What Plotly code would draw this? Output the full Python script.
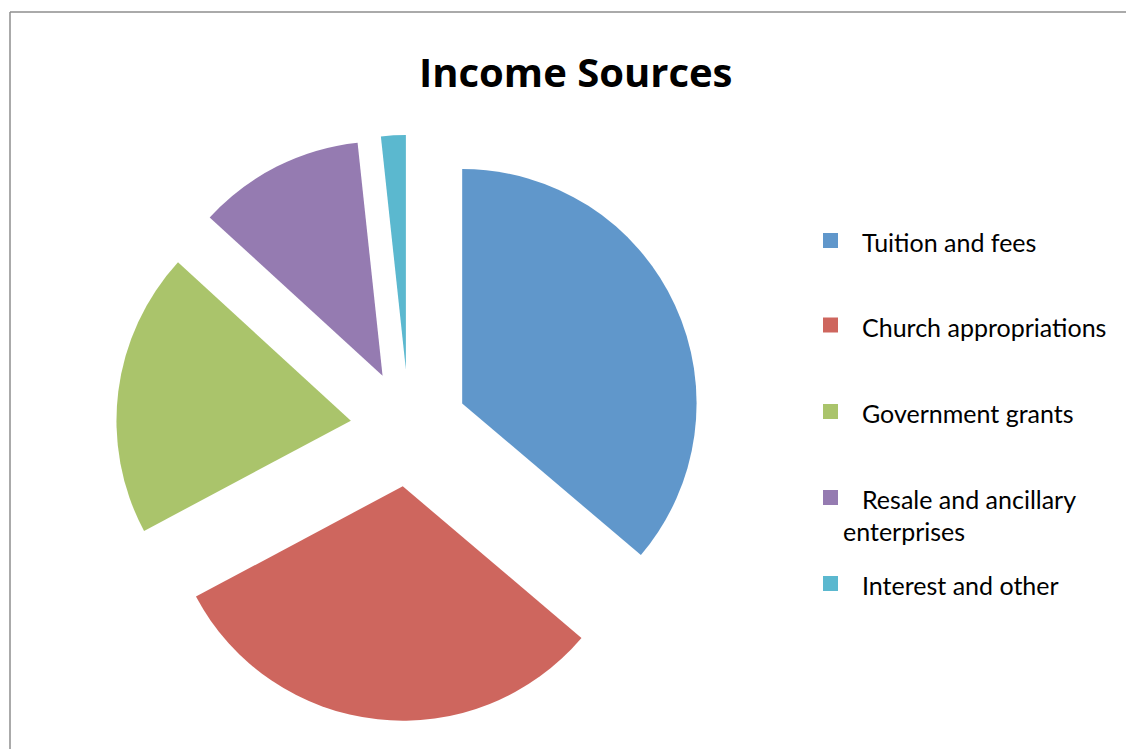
import textwrap
import plotly.graph_objects as go

W, H = 1126, 749

# ---- data ----
labels = ["Tuition and fees", "Church appropriations", "Government grants",
          "Resale and ancillary enterprises", "Interest and other"]
values = [36.2, 31.0, 19.6, 11.5, 1.7]
colors = ["#6097CB", "#CE665E", "#AAC46B", "#957BB1", "#5BB8CF"]
title_text = "Income Sources"

def px_x(x):
    return x / W

def px_y(y):
    return 1 - y / H

fig = go.Figure()
fig.add_trace(go.Pie(
    labels=labels, values=values, sort=False, direction="clockwise", rotation=0,
    pull=[0.25] * len(values),
    marker=dict(colors=colors, line=dict(width=0)),
    textinfo="none", hoverinfo="label+percent", showlegend=False,
    domain=dict(x=[px_x(116), px_x(702)], y=[px_y(721), px_y(135)]),
))

legend_font = "Lato, 'Open Sans', sans-serif"
title_font = "'Open Sans', Lato, sans-serif"
annotations = [dict(text="<b>%s</b>" % title_text, x=px_x(575.5), y=px_y(71),
                    xref="paper", yref="paper", xanchor="center", yanchor="middle",
                    showarrow=False, font=dict(family=title_font, size=40, color="#000000"))]
shapes = [
    dict(type="line", xref="paper", yref="paper", x0=px_x(10), x1=1, y0=px_y(12), y1=px_y(12),
         line=dict(color="#8E8E8E", width=1.5)),
    dict(type="line", xref="paper", yref="paper", x0=px_x(10), x1=px_x(10), y0=px_y(12), y1=0,
         line=dict(color="#8E8E8E", width=1.5)),
]

# manual legend
row_y = [240.5, 325, 411.5, 497.5, 583.5]
for lab, col, cy in zip(labels, colors, row_y):
    shapes.append(dict(type="rect", xref="paper", yref="paper",
                       x0=px_x(823), x1=px_x(838), y0=px_y(cy - 7.5), y1=px_y(cy + 7.5),
                       fillcolor=col, line=dict(width=0)))
    lines = textwrap.wrap(lab, 21)
    for i, ln in enumerate(lines):
        annotations.append(dict(text=ln, x=px_x(860 if i == 0 else 841), y=px_y(cy + 1.5 + 32 * i),
                                xref="paper", yref="paper", xanchor="left", yanchor="middle",
                                showarrow=False,
                                font=dict(family=legend_font, size=25, color="#000000")))

fig.update_layout(
    width=W, height=H, margin=dict(l=0, r=0, t=0, b=0),
    paper_bgcolor="white", plot_bgcolor="white",
    annotations=annotations, shapes=shapes,
)
fig.write_html("out.html")
